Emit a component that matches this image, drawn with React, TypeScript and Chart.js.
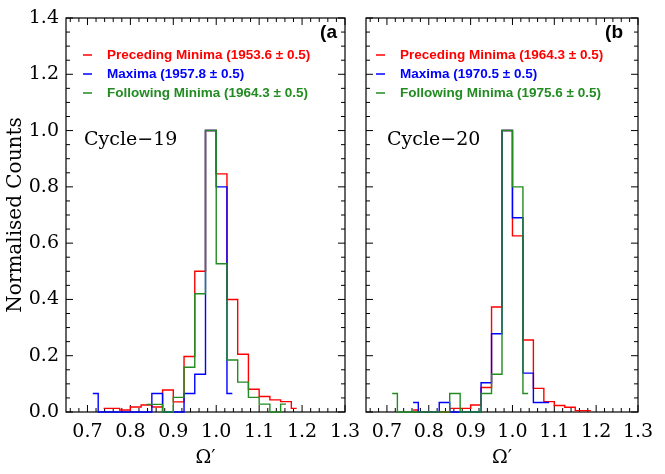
"use client"

import { useEffect, useRef } from "react"
import { Chart, registerables } from "chart.js"
import type { Plugin } from "chart.js"

Chart.register(...registerables)

// Histogram bin centres (Omega'), same binning for both cycles
const binCenters = [
  0.7125, 0.7375, 0.7625, 0.7875, 0.8125, 0.8375, 0.8625, 0.8875, 0.9125, 0.9375,
  0.9625, 0.9875, 1.0125, 1.0375, 1.0625, 1.0875, 1.1125, 1.1375, 1.1625, 1.1875,
]

// Cycle-19 normalised counts (null = outside that histogram)
const c19Preceding = [null, 0.013, 0.013, 0.007, 0.018, 0.025, 0.018, 0.078, 0.036, 0.197, 0.5, 1.0, 0.846, 0.4, 0.205, 0.081, 0.055, 0.043, 0.037, 0.013]
const c19Maxima = [0.066, 0, 0, 0, 0, 0, 0.066, 0, 0, 0.066, 0.134, 1.0, 0.8, 0.066, null, null, null, null, null, null]
const c19Following = [null, null, null, null, null, 0.027, 0.027, 0, 0.052, 0.159, 0.42, 1.0, 0.527, 0.185, 0.106, 0.052, 0.028, 0, 0.028, null]

// Cycle-20 normalised counts
const c20Preceding = [null, null, 0.007, 0, 0, 0, 0.013, 0.013, 0.025, 0.087, 0.373, 1.0, 0.626, 0.256, 0.084, 0.037, 0.023, 0.017, 0.005, 0.005]
const c20Maxima = [null, null, 0.034, 0, 0, 0.034, 0, 0, 0, 0.104, 0.278, 1.0, 0.69, 0.138, 0.034, 0.034, null, null, null, null]
const c20Following = [0.066, 0, 0, 0, 0, 0, 0.066, 0, 0, 0.066, 0.134, 1.0, 0.8, 0.066, null, null, null, null, null, null]

const c19Labels = ["Preceding Minima (1953.6 ± 0.5)", "Maxima (1957.8 ± 0.5)", "Following Minima (1964.3 ± 0.5)"]
const c20Labels = ["Preceding Minima (1964.3 ± 0.5)", "Maxima (1970.5 ± 0.5)", "Following Minima (1975.6 ± 0.5)"]

const xTicks = [0.7, 0.8, 0.9, 1.0, 1.1, 1.2, 1.3]
const yTicks = [0, 0.2, 0.4, 0.6, 0.8, 1.0, 1.2, 1.4]
const xMinorStep = 0.02
const yMinorStep = 0.05

const colors = ["#ff0000", "#0000ff", "#228b22"]
const serif = "'DejaVu Serif', serif"

type PanelProps = {
  series: (number | null)[][]
  labels: string[]
  cycle: string
  tag: string
  showY: boolean
  left: number
  width: number
  yAxisWidth: number
  padRight: number
  legendX: number
  cycleX: number
  tagRight: number
}

function Panel(p: PanelProps) {
  const canvasRef = useRef<HTMLCanvasElement>(null)

  useEffect(() => {
    if (!canvasRef.current) return

    // frame, inward ticks, legend and labels drawn inside the plot box
    const decor: Plugin<"line"> = {
      id: "panelDecor",
      beforeDatasetsDraw(chart) {
        const { ctx, chartArea: a } = chart
        const xs = chart.scales.x
        const ys = chart.scales.y
        ctx.save()
        ctx.strokeStyle = "#000"
        ctx.lineWidth = 1.2
        ctx.strokeRect(a.left, a.top, a.right - a.left, a.bottom - a.top)

        ctx.lineWidth = 1
        ctx.beginPath()
        for (let i = Math.ceil(xs.min / xMinorStep - 1e-6); i * xMinorStep <= xs.max + 1e-6; i++) {
          const v = i * xMinorStep
          const len = xTicks.some((t) => Math.abs(t - v) < 1e-6) ? 7 : 4
          const px = xs.getPixelForValue(v)
          ctx.moveTo(px, a.bottom)
          ctx.lineTo(px, a.bottom - len)
          ctx.moveTo(px, a.top)
          ctx.lineTo(px, a.top + len)
        }
        for (let i = Math.ceil(ys.min / yMinorStep - 1e-6); i * yMinorStep <= ys.max + 1e-6; i++) {
          const v = i * yMinorStep
          const len = yTicks.some((t) => Math.abs(t - v) < 1e-6) ? 7 : 4
          const py = ys.getPixelForValue(v)
          ctx.moveTo(a.left, py)
          ctx.lineTo(a.left + len, py)
          ctx.moveTo(a.right, py)
          ctx.lineTo(a.right - len, py)
        }
        ctx.stroke()

        // legend
        ctx.font = "bold 13.5px 'Liberation Sans', Arial, sans-serif"
        ctx.textBaseline = "middle"
        ctx.textAlign = "left"
        p.labels.forEach((label, i) => {
          const ly = a.top + 37 + i * 19
          ctx.strokeStyle = colors[i]
          ctx.lineWidth = 1.5
          ctx.beginPath()
          ctx.moveTo(a.left + p.legendX, ly)
          ctx.lineTo(a.left + p.legendX + 9, ly)
          ctx.stroke()
          ctx.fillStyle = colors[i]
          ctx.fillText(label, a.left + p.legendX + 24, ly)
        })

        ctx.fillStyle = "#000"
        ctx.font = "bold 19px 'Liberation Sans', Arial, sans-serif"
        ctx.textAlign = "right"
        ctx.fillText(p.tag, a.right - p.tagRight, a.top + 15)

        ctx.font = `19px ${serif}`
        ctx.textAlign = "left"
        ctx.fillText(p.cycle, a.left + p.cycleX, 140)
        ctx.restore()
      },
    }

    const chart = new Chart(canvasRef.current, {
      type: "line",
      data: {
        datasets: p.series.map((vals, i) => ({
          label: p.labels[i],
          data: binCenters.map((c, k) => ({ x: c, y: vals[k] })),
          borderColor: colors[i],
          borderWidth: 1.4,
          stepped: "middle" as const,
          pointRadius: 0,
          spanGaps: false,
          clip: false as const,
          order: 2 - i,
        })),
      },
      options: {
        animation: false,
        responsive: true,
        maintainAspectRatio: false,
        layout: { padding: { top: 18, right: p.padRight, bottom: 0, left: 0 } },
        plugins: {
          legend: { display: false },
          tooltip: { enabled: false },
        },
        scales: {
          x: {
            type: "linear",
            min: 0.65,
            max: 1.3,
            afterBuildTicks: (s) => {
              s.ticks = xTicks.map((value) => ({ value }))
            },
            afterFit: (s) => {
              s.height = 62
              s.paddingLeft = 0
              s.paddingRight = 0
            },
            grid: { display: false, drawTicks: false },
            border: { display: false },
            ticks: {
              color: "#000",
              padding: 9,
              maxRotation: 0,
              autoSkip: false,
              font: { family: serif, size: 19 },
              callback: (v) => Number(v).toFixed(1),
            },
            title: {
              display: true,
              text: "Ω′",
              color: "#000",
              font: { family: serif, size: 19 },
              padding: { top: 0, bottom: 5 },
            },
          },
          y: {
            type: "linear",
            min: 0,
            max: 1.4,
            afterBuildTicks: (s) => {
              s.ticks = yTicks.map((value) => ({ value }))
            },
            afterFit: (s) => {
              s.width = p.yAxisWidth
              s.paddingTop = 0
              s.paddingBottom = 0
            },
            grid: { display: false, drawTicks: false },
            border: { display: false },
            ticks: {
              display: p.showY,
              color: "#000",
              padding: 7,
              font: { family: serif, size: 19 },
              callback: (v) => Number(v).toFixed(1),
            },
            title: {
              display: p.showY,
              text: "Normalised Counts",
              color: "#000",
              font: { family: serif, size: 20 },
              padding: { top: 4, bottom: 0 },
            },
          },
        },
      },
      plugins: [decor],
    })

    return () => {
      chart.destroy()
    }
  }, [])

  return (
    <div style={{ position: "absolute", left: p.left, top: 0, width: p.width, height: 474 }}>
      <canvas ref={canvasRef} />
    </div>
  )
}

export default function App() {
  return (
    <div style={{ position: "absolute", left: 0, top: 0, width: 665, height: 474, background: "#fff", overflow: "hidden" }}>
      <Panel
        series={[c19Preceding, c19Maxima, c19Following]}
        labels={c19Labels}
        cycle="Cycle−19"
        tag="(a"
        showY={true}
        left={0}
        width={362}
        yAxisWidth={66}
        padRight={17}
        legendX={17}
        cycleX={18}
        tagRight={8}
      />
      <Panel
        series={[c20Preceding, c20Maxima, c20Following]}
        labels={c20Labels}
        cycle="Cycle−20"
        tag="(b"
        showY={false}
        left={350}
        width={315}
        yAxisWidth={16}
        padRight={27}
        legendX={10}
        cycleX={21}
        tagRight={15}
      />
    </div>
  )
}
